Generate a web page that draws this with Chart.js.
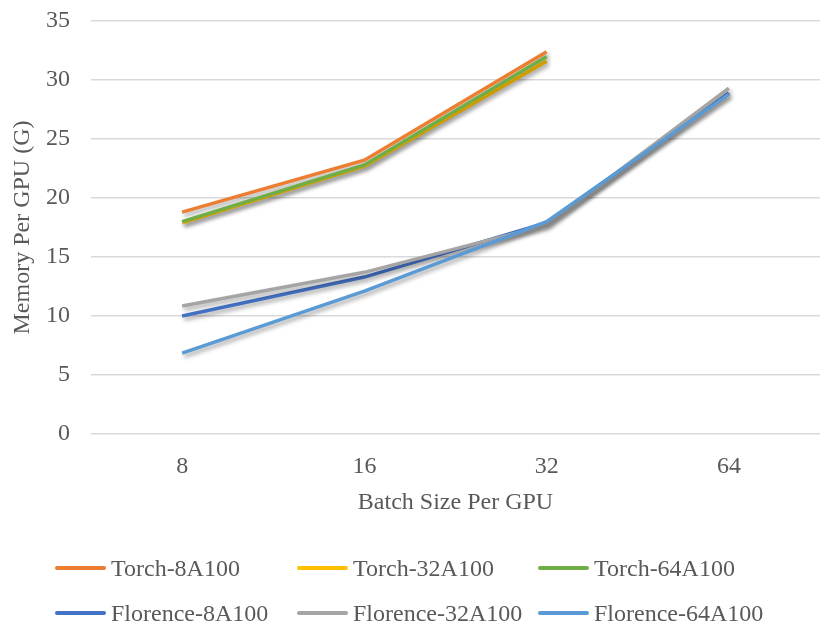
<!DOCTYPE html>
<html>
<head>
<meta charset="utf-8">
<script src="https://cdn.jsdelivr.net/npm/chart.js@4/dist/chart.umd.min.js"></script>
<style>
    body { margin: 0; background: #fff; }
    #wrap { position: relative; width: 831px; height: 637px; }
    #legend {
        position: absolute; left: 0; top: 554px; width: 831px;
        font-family: "Liberation Serif", serif; font-size: 24px; line-height: 28px; color: #595959;
    }
    .item { position: absolute; display: flex; align-items: center; white-space: nowrap; }
    .swatch { width: 51px; height: 4px; margin-right: 5px; border-radius: 2px; }
</style>
</head>
<body>
<div id="wrap">
    <canvas id="chart" width="831" height="637"></canvas>
    <div id="legend"></div>
</div>
<script>
const batchSizes = ['8', '16', '32', '64'];
const seriesNames = ['Torch-8A100', 'Torch-32A100', 'Torch-64A100', 'Florence-8A100', 'Florence-32A100', 'Florence-64A100'];
const torch8 = [18.8, 23.2, 32.4, null];
const torch32 = [17.9, 22.7, 31.6, null];
const torch64 = [18.0, 22.8, 32.0, null];
const florence8 = [10.0, 13.3, 17.9, 28.9];
const florence32 = [10.85, 13.7, 17.7, 29.3];
const florence64 = [6.85, 12.1, 18.0, 28.8];
const seriesColors = ['#ED7D31', '#FFC000', '#70AD47', '#4472C4', '#A5A5A5', '#5B9BD5'];

const allValues = [torch8, torch32, torch64, florence8, florence32, florence64];
const FONT = '"Liberation Serif", serif';
const TXT = '#595959';

// Excel-ish drop shadow under the lines
const shadowPlugin = {
    id: 'shadow',
    beforeDatasetsDraw(chart) {
        const ctx = chart.ctx;
        ctx.save();
        ctx.shadowColor = 'rgba(0,0,0,0.35)';
        ctx.shadowBlur = 4;
        ctx.shadowOffsetX = 2;
        ctx.shadowOffsetY = 3;
    },
    afterDatasetsDraw(chart) {
        chart.ctx.restore();
    }
};

const datasets = seriesNames.map((name, i) => ({
    label: name,
    data: allValues[i],
    borderColor: seriesColors[i],
    backgroundColor: seriesColors[i],
    borderWidth: 3.5,
    pointRadius: 0,
    tension: 0,
    fill: false,
    order: -i
}));

new Chart(document.getElementById('chart'), {
    type: 'line',
    data: { labels: batchSizes, datasets },
    options: {
        responsive: false,
        animation: false,
        layout: { padding: { top: 0, right: 11, bottom: 113, left: 0 } },
        plugins: {
            legend: { display: false },
            tooltip: { enabled: false }
        },
        scales: {
            x: {
                offset: true,
                grid: { display: false },
                border: { display: false },
                ticks: { color: TXT, padding: 10, font: { family: FONT, size: 24 } },
                title: {
                    display: true, text: 'Batch Size Per GPU', color: TXT,
                    padding: { top: 0, bottom: 7 }, font: { family: FONT, size: 24 }
                },
                afterFit(scale) { scale.height = 90; }
            },
            y: {
                min: 0, max: 35,
                ticks: { stepSize: 5, color: TXT, padding: 21, font: { family: FONT, size: 24 } },
                grid: { color: '#D9D9D9', lineWidth: 1.5, drawTicks: false },
                border: { display: false },
                title: {
                    display: true, text: 'Memory Per GPU (G)', color: TXT,
                    padding: { top: 8, bottom: 0 }, font: { family: FONT, size: 24 }
                },
                afterFit(scale) {
                    scale.width = 91;
                    // the tick padding would otherwise push the plot top down
                    scale.paddingTop = 21;
                    scale.paddingBottom = 0;
                }
            }
        }
    },
    plugins: [shadowPlugin]
});

// legend laid out as a 3 x 2 grid like the original
const legendEl = document.getElementById('legend');
const colX = [55, 297, 538];
const rowY = [0, 45];
seriesNames.forEach((name, i) => {
    const item = document.createElement('div');
    item.className = 'item';
    item.style.left = colX[i % 3] + 'px';
    item.style.top = rowY[Math.floor(i / 3)] + 'px';
    item.innerHTML = `<span class="swatch" style="background:${seriesColors[i]}"></span><span>${name}</span>`;
    legendEl.appendChild(item);
});
</script>
</body>
</html>
